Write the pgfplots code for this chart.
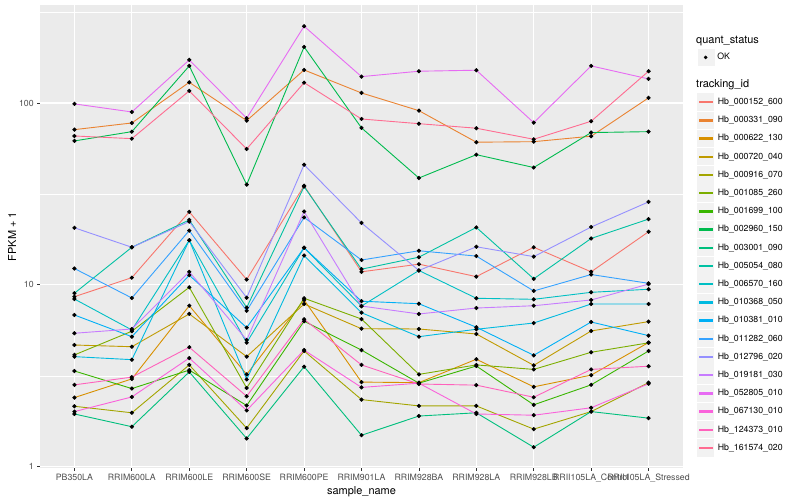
\documentclass[border=0pt]{standalone}
\usepackage{fontspec}
\setmainfont{TeX Gyre Heros}
\usepackage{pgfplots}
\pgfplotsset{compat=1.18}
\usepackage{pgfplotstable}

\definecolor{panel}{HTML}{EBEBEB}
\definecolor{keyfill}{HTML}{F2F2F2}
\definecolor{gtxt}{HTML}{4D4D4D}
\definecolor{gtick}{HTML}{333333}
% ggplot hue palette, 20 levels
\definecolor{c00}{HTML}{F8766D}
\definecolor{c01}{HTML}{EA8331}
\definecolor{c02}{HTML}{D89000}
\definecolor{c03}{HTML}{C09B00}
\definecolor{c04}{HTML}{A3A500}
\definecolor{c05}{HTML}{7CAE00}
\definecolor{c06}{HTML}{39B600}
\definecolor{c07}{HTML}{00BB4E}
\definecolor{c08}{HTML}{00BF7D}
\definecolor{c09}{HTML}{00C1A3}
\definecolor{c10}{HTML}{00BFC4}
\definecolor{c11}{HTML}{00BAE0}
\definecolor{c12}{HTML}{00B0F6}
\definecolor{c13}{HTML}{35A2FF}
\definecolor{c14}{HTML}{9590FF}
\definecolor{c15}{HTML}{C77CFF}
\definecolor{c16}{HTML}{E76BF3}
\definecolor{c17}{HTML}{FA62DB}
\definecolor{c18}{HTML}{FF62BC}
\definecolor{c19}{HTML}{FF6C91}

% FPKM + 1, one row per sample, one column per tracking_id
\pgfplotstableread{
x  s0    s1    s2   s3   s4   s5   s6   s7    s8   s9    s10  s11  s12  s13  s14  s15  s16   s17  s18  s19
0  8.61  71.4  2.40 4.67 2.15 4.12 3.36 61.9  1.95 9.0   8.36 4.03 6.83 12.3 20.6 5.42 98.9  2.01 2.82 65.9
1  10.96 77.7  3.04 4.57 1.98 5.56 2.69 69.6  1.66 16.1  5.65 3.88 5.19 8.47 16.1 5.72 89.3  2.42 3.11 63.7
2  25.2  130   7.68 6.92 3.63 9.7  3.40 160   3.32 22.75 17.6 17.6 11.3 19.9 22.3 11.8 172.6 3.96 4.54 116.6
3  10.7  80    3.22 4.03 1.63 2.71 2.17 35.6  1.43 7.5   4.81 3.02 5.82 7.2  8.5  4.98 82.5  2.04 2.44 55.9
4  35.1  152   8.26 7.85 4.33 8.44 6.31 203.5 3.55 34.7  16.0 14.5 16.0 23.5 45.8 25.3 264.5 4.38 6.47 129.4
5  11.8  113.6 2.92 5.74 2.34 6.49 4.38 73    1.49 12.2  7.65 7.03 8.13 13.7 21.9 7.65 139.7 2.73 3.63 81.7
6  13.0  90.8  2.90 5.72 2.16 3.22 2.88 38.7  1.90 14.2  12.0 5.19 7.88 15.4 12.0 6.92 149.6 2.88 2.85 77
7  11.1  60.9  3.90 5.37 2.16 3.63 3.58 52    1.98 20.7  8.44 5.70 5.85 14.4 16.2 7.46 151.5 1.95 2.81 72.7
8  16.1  61.3  2.75 3.61 1.61 3.43 2.19 44.2  1.28 10.8  8.33 6.17 4.10 9.26 14.3 7.68 78    1.92 2.41 63.2
9  11.8  65.7  3.19 5.58 2.01 4.26 2.82 68.8  2.01 18.0  9.1  7.85 6.25 11.4 20.8 8.26 160   2.11 3.43 79.4
10 19.6  106.7 4.82 6.28 2.90 4.80 4.33 69.6  1.85 23.0  9.46 7.85 5.26 10.2 28.6 10.1 135.7 2.86 3.57 149.6
}\fpkm

\begin{document}
\begin{tikzpicture}
\begin{axis}[
    at={(40bp,32bp)}, anchor=south west,
    scale only axis, width=643bp, height=463bp,
    axis background/.style={fill=panel},
    axis line style={draw=none},
    ymode=log, ymin=0.984, ymax=346,
    xmin=-0.6, xmax=10.6,
    xtick={0,...,10},
    xticklabels={PB350LA,RRIM600LA,RRIM600LE,RRIM600SE,RRIM600PE,RRIM901LA,RRIM928BA,RRIM928LA,RRIM928LB,RRII105LA\_Control,RRII105LA\_Stressed},
    ytick={1,10,100}, yticklabels={1,10,100},
    minor ytick={3.1623,31.623,316.23},
    xtick pos=bottom, ytick pos=left,
    tick align=outside, major tick length=2.75bp, minor tick length=0pt,
    every tick/.style={gtick, line width=0.8bp},
    ticklabel style={font=\fontsize{8.8}{10}\selectfont, text=gtxt},
    grid=both,
    major grid style={white, line width=1.1bp},
    minor grid style={white, line width=0.55bp},
    xlabel={sample\_name}, ylabel={FPKM + 1},
    label style={font=\fontsize{11}{13}\selectfont},
    xlabel style={at={(axis description cs:0.5,-0.0518)}, anchor=center},
    ylabel style={at={(axis description cs:-0.0435,0.5)}, anchor=center},
    legend style={at={(axis description cs:1.0222,0.8093)}, anchor=north west,
        draw=none, fill=none, inner sep=0pt, row sep=1bp, column sep=3.5bp,
        font=\fontsize{8.8}{10}\selectfont, nodes={inner sep=0pt}},
    legend cell align=left,
    legend image code/.code={
        \fill[keyfill] (0bp,-8.15bp) rectangle (16bp,8.15bp);
        \fill[#1] (1.5bp,-0.7bp) rectangle (14.5bp,0.7bp);},
    every axis plot/.append style={line width=0.9bp},
]
\addplot[c00] table[x=x,y=s0]{\fpkm}; \addlegendentry{Hb\_000152\_600}
\addplot[c01] table[x=x,y=s1]{\fpkm}; \addlegendentry{Hb\_000331\_090}
\addplot[c02] table[x=x,y=s2]{\fpkm}; \addlegendentry{Hb\_000622\_130}
\addplot[c03] table[x=x,y=s3]{\fpkm}; \addlegendentry{Hb\_000720\_040}
\addplot[c04] table[x=x,y=s4]{\fpkm}; \addlegendentry{Hb\_000916\_070}
\addplot[c05] table[x=x,y=s5]{\fpkm}; \addlegendentry{Hb\_001085\_260}
\addplot[c06] table[x=x,y=s6]{\fpkm}; \addlegendentry{Hb\_001699\_100}
\addplot[c07] table[x=x,y=s7]{\fpkm}; \addlegendentry{Hb\_002960\_150}
\addplot[c08] table[x=x,y=s8]{\fpkm}; \addlegendentry{Hb\_003001\_090}
\addplot[c09] table[x=x,y=s9]{\fpkm}; \addlegendentry{Hb\_005054\_080}
\addplot[c10] table[x=x,y=s10]{\fpkm}; \addlegendentry{Hb\_006570\_160}
\addplot[c11] table[x=x,y=s11]{\fpkm}; \addlegendentry{Hb\_010368\_050}
\addplot[c12] table[x=x,y=s12]{\fpkm}; \addlegendentry{Hb\_010381\_010}
\addplot[c13] table[x=x,y=s13]{\fpkm}; \addlegendentry{Hb\_011282\_060}
\addplot[c14] table[x=x,y=s14]{\fpkm}; \addlegendentry{Hb\_012796\_020}
\addplot[c15] table[x=x,y=s15]{\fpkm}; \addlegendentry{Hb\_019181\_030}
\addplot[c16] table[x=x,y=s16]{\fpkm}; \addlegendentry{Hb\_052805\_010}
\addplot[c17] table[x=x,y=s17]{\fpkm}; \addlegendentry{Hb\_067130\_010}
\addplot[c18] table[x=x,y=s18]{\fpkm}; \addlegendentry{Hb\_124373\_010}
\addplot[c19] table[x=x,y=s19]{\fpkm}; \addlegendentry{Hb\_161574\_020}
\pgfplotsinvokeforeach{0,...,19}{
  \addplot[only marks, mark=*, mark size=1.6bp, black, forget plot] table[x=x,y=s#1]{\fpkm};
}
\end{axis}
% quant_status legend
\begin{axis}[
    at={(697.3bp,451bp)}, anchor=south west,
    scale only axis, width=1bp, height=1bp, hide axis,
    xmin=0, xmax=1, ymin=0, ymax=1,
    legend style={at={(0,0)}, anchor=north west, draw=none, fill=none,
        inner sep=0pt, column sep=3.5bp, font=\fontsize{8.8}{10}\selectfont,
        nodes={inner sep=0pt}},
    legend image code/.code={
        \fill[keyfill] (0bp,-8bp) rectangle (16bp,8bp);
        \fill[black] (8bp,0bp) circle (1.6bp);},
]
\addlegendimage{black}\addlegendentry{OK}
\end{axis}
\node[anchor=west, font=\fontsize{11}{13}\selectfont, inner sep=0pt] at (696bp,459.3bp) {quant\_status};
\node[anchor=west, font=\fontsize{11}{13}\selectfont, inner sep=0pt] at (696bp,415bp) {tracking\_id};
\pgfresetboundingbox
\useasboundingbox (0,0) rectangle (800bp,500bp);
\end{tikzpicture}
\end{document}
